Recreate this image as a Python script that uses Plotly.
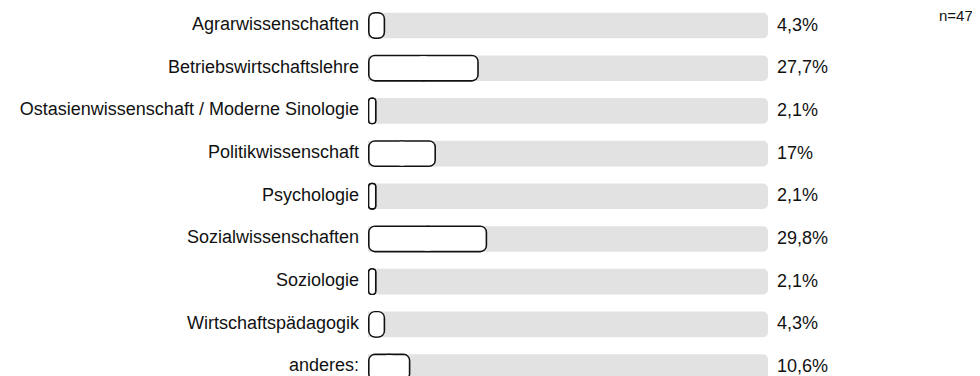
import plotly.graph_objects as go

categories = [
    "Agrarwissenschaften",
    "Betriebswirtschaftslehre",
    "Ostasienwissenschaft / Moderne Sinologie",
    "Politikwissenschaft",
    "Psychologie",
    "Sozialwissenschaften",
    "Soziologie",
    "Wirtschaftspädagogik",
    "anderes:",
]
values = [4.3, 27.7, 2.1, 17.0, 2.1, 29.8, 2.1, 4.3, 10.6]
value_labels = ["4,3%", "27,7%", "2,1%", "17%", "2,1%", "29,8%", "2,1%", "4,3%", "10,6%"]
track_max = 100
n_label = "n=47"

FONT = "Liberation Sans, Arial, sans-serif"
BORDER = 0.4          # border thickness in x data units (~1.6 px)
OVERLAP = 1.6         # overlap of the two halves, in x data units
OUTER_W, INNER_W = 0.63, 0.555

fig = go.Figure()
# grey track
fig.add_trace(go.Bar(
    y=categories, x=[track_max] * len(categories), orientation="h",
    marker=dict(color="#e2e2e2", line=dict(width=0), cornerradius=5),
    width=0.6, hoverinfo="skip", showlegend=False,
))
# each value bar is drawn as two overlapping halves so both ends are rounded:
# a dark outline layer, then a white fill layer inset by the border width
for color, w, inset, rad in [("#111111", OUTER_W, 0.0, 7), ("#ffffff", INNER_W, BORDER, 5.5)]:
    r_base, r_len, l_base, l_len = [], [], [], []
    for v in values:
        m = v / 2
        e = min(OVERLAP, m - inset)
        r_base.append(m - e)
        r_len.append((v - inset) - (m - e))
        l_base.append(m + e)
        l_len.append(-((m + e) - inset))
    fig.add_trace(go.Bar(
        y=categories, base=r_base, x=r_len, orientation="h",
        marker=dict(color=color, line=dict(width=0), cornerradius=rad),
        width=w, hoverinfo="skip", showlegend=False,
    ))
    fig.add_trace(go.Bar(
        y=categories, base=l_base, x=l_len, orientation="h",
        marker=dict(color=color, line=dict(width=0), cornerradius=rad),
        width=w, hoverinfo="skip", showlegend=False,
    ))

for c, lab in zip(categories, value_labels):
    fig.add_annotation(x=track_max, y=c, xref="x", yref="y", text=lab,
                       showarrow=False, xanchor="left", xshift=7, yshift=1,
                       font=dict(family=FONT, size=18, color="#111111"))

# page body has an 8px margin; figure is sized and placed to compensate
fig.add_annotation(x=(967 - 360) / 400, y=1 - 7 / 368, xref="paper", yref="paper",
                   text=n_label, showarrow=False, xanchor="right", yanchor="middle",
                   font=dict(family=FONT, size=15, color="#111111"))

fig.update_layout(
    width=972, height=368,
    margin=dict(l=360, r=212, t=0, b=0, pad=0, autoexpand=False),
    barmode="overlay",
    paper_bgcolor="white", plot_bgcolor="white",
    xaxis=dict(range=[0, 100], visible=False, fixedrange=True),
    yaxis=dict(range=[8.21, -0.41], showgrid=False, zeroline=False,
               showline=False, ticks="", ticklabelstandoff=8, ticklabelshift=2,
               tickfont=dict(family=FONT, size=18, color="#111111")),
)

fig.write_html("out.html")
